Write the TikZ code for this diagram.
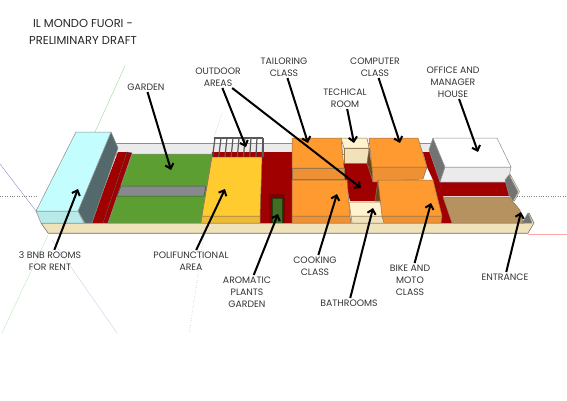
\documentclass[tikz,border=0pt]{standalone}
\usepackage{xcolor}
\usepackage{fontspec}
\setmainfont{Poppins}
\usetikzlibrary{arrows.meta,positioning}
\definecolor{sandbase}{HTML}{F0E3BC}
\definecolor{glassblue}{HTML}{C4FDFD}
\definecolor{glassfront}{HTML}{B8EAEA}
\definecolor{slateside}{HTML}{54696B}
\definecolor{brickred}{HTML}{A00000}
\definecolor{lawn}{HTML}{5C9E32}
\definecolor{roadgray}{HTML}{868A8E}
\definecolor{sunyellow}{HTML}{FFCB2F}
\definecolor{sundark}{HTML}{EDBC35}
\definecolor{orangetop}{HTML}{FF9A30}
\definecolor{orangefront}{HTML}{EE9135}
\definecolor{shadebrown}{HTML}{6E4517}
\definecolor{creamtop}{HTML}{FFF3D0}
\definecolor{woodbrown}{HTML}{B5925F}
\tikzset{
  block/.style={draw=black!45,line width=0.5pt,line join=round},
  warmblock/.style={draw=shadebrown!75,line width=0.5pt,line join=round},
  labeltext/.style={font=\fontsize{9.3}{12}\selectfont,text=black!80,align=center,inner sep=1.5pt},
  pointer/.style={-{Straight Barb[length=4.5pt,width=8.5pt,line width=2pt]},line width=2pt,black},
  axisline/.style={line width=0.4pt}
}
\begin{document}
\begin{tikzpicture}[x=1pt,y=-1pt]
\useasboundingbox (0,0) rectangle (567,400);

% Axes
\draw[axisline,green!60!black!40] (95,132)--(125,66);
\draw[axisline,green!60!black!25] (48,235)--(2,333);
\draw[axisline,blue!60!black!45] (0,164)--(36,211);
\draw[axisline,blue!60!black!20] (52,240)--(117,333);
\draw[axisline,gray,dotted] (0,196)--(38,196);
\draw[axisline,gray,dotted] (517,196)--(567,196);
\draw[axisline,gray,dotted] (222,113)--(213,140);
\draw[axisline,gray,dotted] (204,235)--(189,334);
\draw[axisline,red!35] (528,234)--(567,234);

% Base
\filldraw[block,fill=black!8] (115,143)--(432,143)--(432,154)--(115,154)--cycle;
\filldraw[block,fill=sandbase,draw=black!60]
(41,223)--(524,223)--(529,213)--(534,223)--(528,233)--(48,233)--cycle;
\draw[red!50!black!45,line width=1pt] (48,233.5)--(528,233.5);

% Red ground
\fill[brickred] (118,152)--(127,152)--(103,223)--(91,223)--cycle;
\filldraw[fill=brickred,draw=black!70,line width=0.4pt] (127,152)--(132,153)--(108,223)--(103,223)--cycle;
\fill[brickred] (212,152)--(292,152)--(292,223)--(200,223)--cycle;
\fill[brickred] (341,163)--(372,163)--(384,201)--(350,201)--cycle;
\fill[brickred]
(423,152)--(436,152)--(446,180)--(509,182)--(509,196)--(443,196)--(452,223)--(441,223)--(433,180)--(427,167)--cycle;

% Garden
\filldraw[block,fill=lawn] (132,154)--(212,154)--(201,223)--(108,223)--cycle;
\filldraw[fill=roadgray,draw=lawn!60!black,line width=0.5pt] (121,186)--(206,186)--(204,196)--(117,196)--cycle;

% Rooms block
\filldraw[block,fill=slateside] (111,132)--(118,148)--(92,223)--(85,223)--(78,211)--cycle;
\filldraw[block,fill=glassfront] (36,211)--(78,211)--(84,223)--(41,223)--cycle;
\filldraw[block,fill=glassblue] (36,211)--(76,132)--(111,132)--(78,211)--cycle;

% Pergola
\foreach \postx in {0,1,...,8}{
\draw[black!65,line width=1.2pt] (215+6*\postx,138)--(212.5+6.2*\postx,157);
}
\draw[black!65,line width=1.2pt] (214,138)--(263,138);
\draw[black!65,line width=1.2pt] (263,138)--(263,157);

% Polifunctional area
\filldraw[warmblock,fill=sundark] (202,216)--(260,216)--(260,223)--(201,223)--cycle;
\filldraw[warmblock,fill=sunyellow] (212,157)--(262,157)--(260,216)--(202,216)--cycle;

% Aromatic garden
\filldraw[fill=brickred!80!black,draw=black!50!red,line width=0.5pt] (269,194)--(284,194)--(284,223)--(269,223)--cycle;
\filldraw[fill=lawn!70!black,draw=lawn!40!black,line width=0.4pt] (272,198)--(282,198)--(282,223)--(272,223)--cycle;

% Orange rooms
\filldraw[warmblock,fill=orangefront] (292,168)--(344,168)--(344,179)--(292,179)--cycle;
\filldraw[warmblock,fill=orangetop] (292,138)--(341,138)--(344,168)--(292,168)--cycle;
\filldraw[warmblock,fill=orangefront] (292,216)--(350,216)--(351,223)--(292,223)--cycle;
\filldraw[warmblock,fill=orangetop] (292,180)--(347,180)--(350,216)--(292,216)--cycle;

% Technical room
\filldraw[warmblock,fill=sandbase] (344,148)--(369,148)--(369,163)--(344,163)--cycle;
\filldraw[warmblock,fill=creamtop] (341,138)--(367,138)--(369,148)--(344,148)--cycle;

% Computer class
\filldraw[warmblock,fill=shadebrown] (369,149)--(372,168)--(373,182)--(367,163)--cycle;
\filldraw[warmblock,fill=orangefront] (372,167)--(427,167)--(423,179)--(373,182)--cycle;
\filldraw[warmblock,fill=orangetop] (369,138)--(418,138)--(427,167)--(372,167)--cycle;

% Bathrooms
\filldraw[warmblock,fill=sandbase] (351,216)--(384,216)--(385,223)--(352,223)--cycle;
\filldraw[warmblock,fill=creamtop] (349,202)--(382,202)--(384,216)--(351,216)--cycle;

% Bike class
\filldraw[warmblock,fill=shadebrown] (378,180)--(382,201)--(375,201)--cycle;
\filldraw[warmblock,fill=orangefront] (382,216)--(442,216)--(441,223)--(384,223)--cycle;
\filldraw[warmblock,fill=orangetop] (378,180)--(433,180)--(442,216)--(382,216)--cycle;

% House
\filldraw[block,fill=black!55] (433,138)--(429,150)--(440,182)--(445,167)--cycle;
\filldraw[block,fill=black!8] (445,167)--(511,167)--(508,182)--(440,182)--cycle;
\filldraw[block,fill=white] (433,138)--(497,138)--(511,167)--(445,167)--cycle;
\filldraw[block,fill=sandbase] (510,174)--(519.5,191.5)--(514.5,201)--(510,196)--cycle;
\filldraw[block,fill=black!55] (505,180)--(509,175)--(518,192)--(513,201)--(509,195)--cycle;

% Terrace and entrance
\filldraw[warmblock,fill=woodbrown] (443,197)--(509,197)--(520,210)--(523,223)--(452,223)--cycle;
\filldraw[block,fill=black!55] (522,223)--(528,213)--(532,223)--cycle;
\draw[black!35,line width=1pt] (85,223.5)--(522,223.5);

% Title
\node[font=\fontsize{11.5}{17}\selectfont,text=black!85,align=center,inner sep=0pt] (titlelbl) at (83,31.5)
{IL MONDO FUORI -\\PRELIMINARY DRAFT};

% Labels
\node[labeltext] (gardenlbl) at (146,87) {GARDEN};
\node[labeltext] (outdoorlbl) at (218,77) {OUTDOOR\\AREAS};
\node[labeltext] (tailorlbl) at (284,67) {TAILORING\\CLASS};
\node[labeltext] (computerlbl) at (375,67) {COMPUTER\\CLASS};
\node[labeltext] (techlbl) at (345,98) {TECHICAL\\ROOM};
\node[labeltext] (officelbl) at (453,82) {OFFICE AND\\MANAGER\\HOUSE};
\node[labeltext] (roomslbl) at (50,261) {3 BNB ROOMS\\FOR RENT};
\node[labeltext] (polilbl) at (191,261) {POLIFUNCTIONAL\\AREA};
\node[labeltext] (aromalbl) at (247,292) {AROMATIC\\PLANTS\\GARDEN};
\node[labeltext] (cooklbl) at (315,266) {COOKING\\CLASS};
\node[labeltext] (bathlbl) at (349,303) {BATHROOMS};
\node[labeltext] (bikelbl) at (410,280) {BIKE AND\\MOTO\\CLASS};
\node[labeltext] (entrylbl) at (505,277) {ENTRANCE};

% Targets
\coordinate (gardenpt) at (171,170);
\coordinate (pergolapt) at (246,147);
\coordinate (courtpt) at (361,188);
\coordinate (tailorpt) at (308,143);
\coordinate (computerpt) at (400,143);
\coordinate (techpt) at (354,143);
\coordinate (officept) at (478,152);
\coordinate (roomspt) at (78,189);
\coordinate (polipt) at (225,189);
\coordinate (aromapt) at (278,214);
\coordinate (cookpt) at (337,194);
\coordinate (bathpt) at (373,208);
\coordinate (bikept) at (431,203);
\coordinate (entrypt) at (521,212);

% Arrows
\draw[pointer] (gardenlbl) -- (gardenpt);
\draw[pointer] (outdoorlbl) -- (pergolapt);
\draw[pointer] (outdoorlbl) -- (courtpt);
\draw[pointer] (tailorlbl) -- (tailorpt);
\draw[pointer] (computerlbl) -- (computerpt);
\draw[pointer] (techlbl) -- (techpt);
\draw[pointer] (officelbl) -- (officept);
\draw[pointer] (roomslbl) -- (roomspt);
\draw[pointer] (polilbl) -- (polipt);
\draw[pointer] (aromalbl) -- (aromapt);
\draw[pointer] (cooklbl) -- (cookpt);
\draw[pointer] (bathlbl) -- (bathpt);
\draw[pointer] (bikelbl) -- (bikept);
\draw[pointer] (entrylbl) -- (entrypt);

\end{tikzpicture}
\end{document}
